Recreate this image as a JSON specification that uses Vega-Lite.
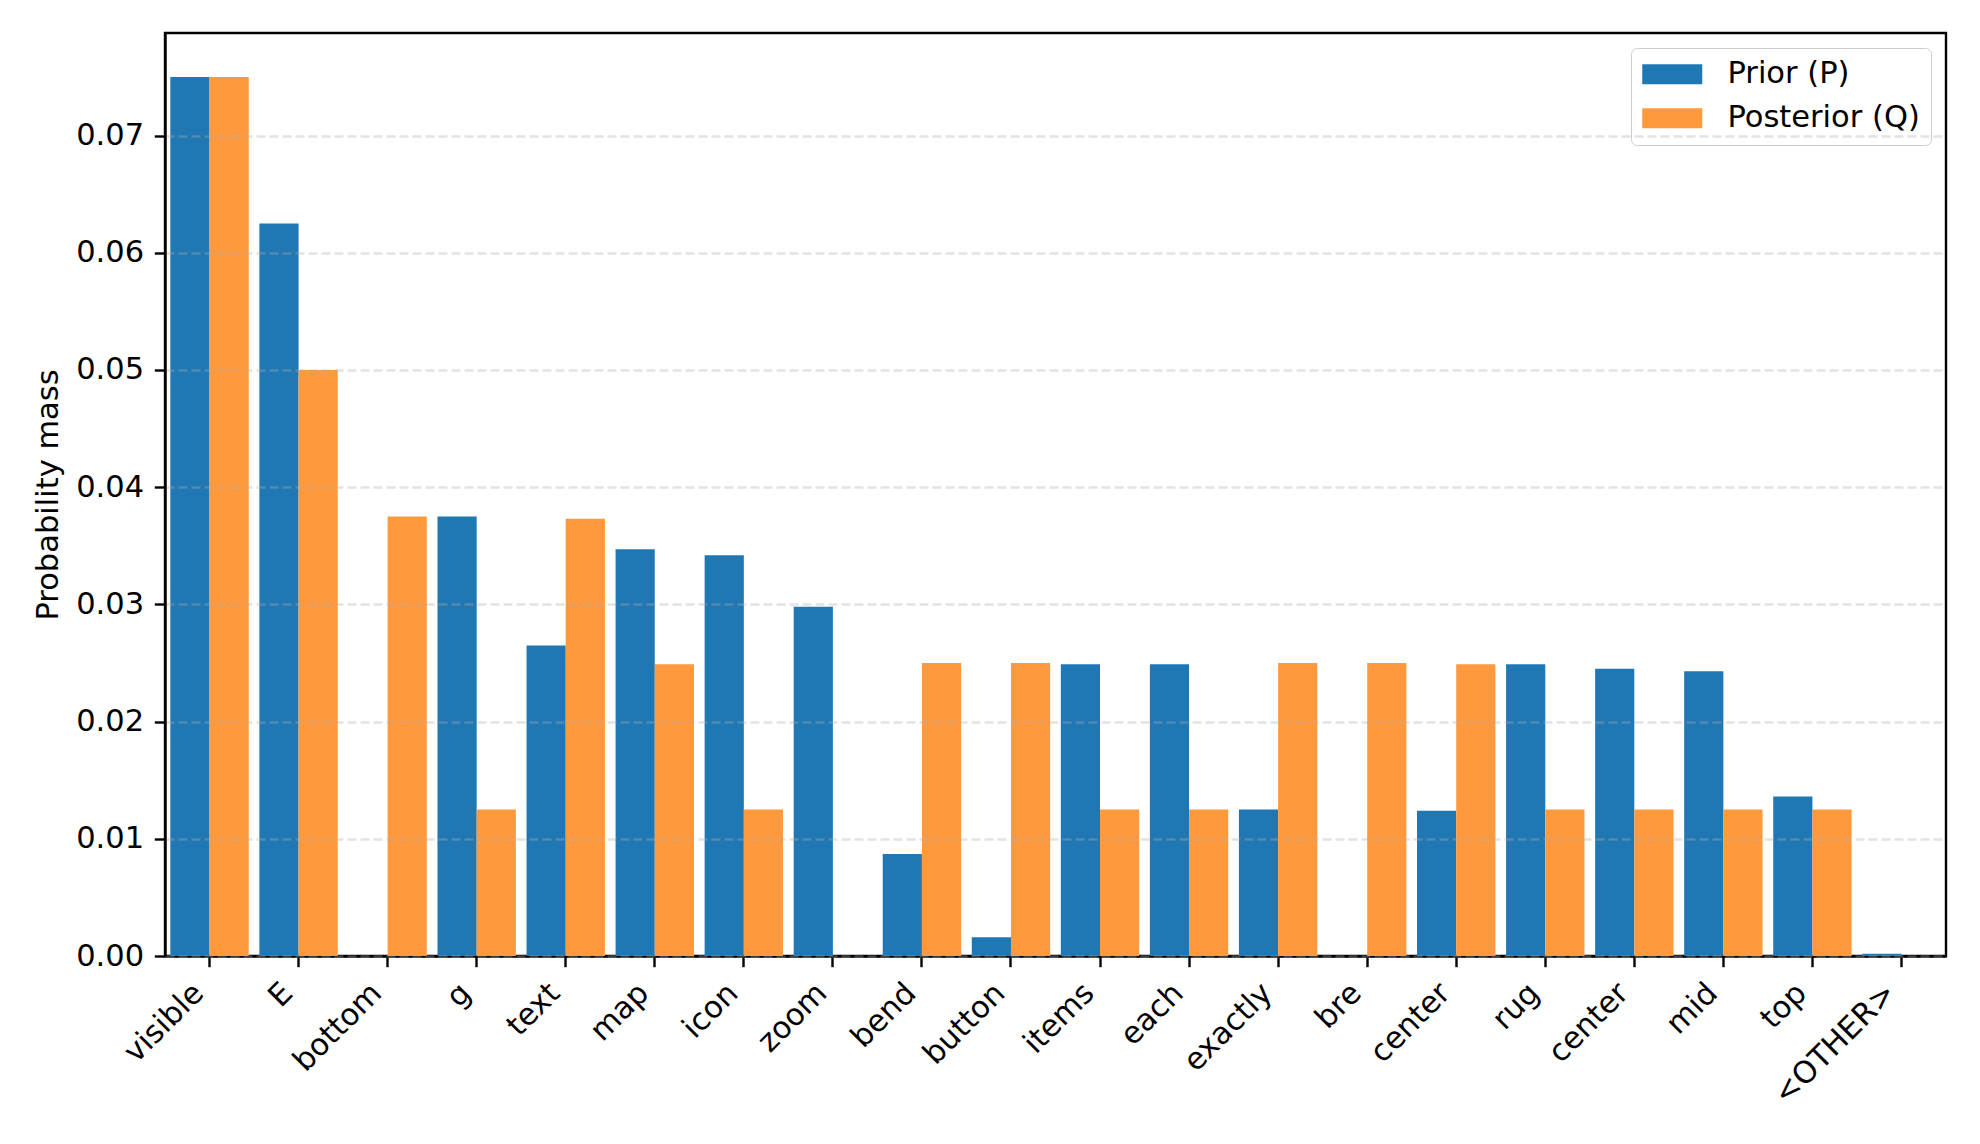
{
  "$schema": "https://vega.github.io/schema/vega-lite/v6.json",
  "width": 1781,
  "height": 923,
  "autosize": {"type": "none"},
  "padding": {"left": 165, "top": 33, "right": 34, "bottom": 188},
  "background": "white",
  "config": {
    "font": "DejaVu Sans",
    "view": {"stroke": "black", "strokeWidth": 2.4},
    "axis": {
      "labelFont": "DejaVu Sans",
      "labelFontSize": 30.5,
      "labelColor": "black",
      "titleFont": "DejaVu Sans",
      "titleFontSize": 30.5,
      "titleFontWeight": "normal",
      "titleColor": "black",
      "domainColor": "black",
      "domainWidth": 2.4,
      "tickColor": "black",
      "tickWidth": 2.4,
      "tickSize": 10.7,
      "labelPadding": 10.7
    }
  },
  "data": {
    "values": [
      {"word": "visible", "series": "Prior (P)", "value": 0.075},
      {"word": "visible", "series": "Posterior (Q)", "value": 0.075},
      {"word": "E", "series": "Prior (P)", "value": 0.0625},
      {"word": "E", "series": "Posterior (Q)", "value": 0.05},
      {"word": "bottom", "series": "Prior (P)", "value": 0},
      {"word": "bottom", "series": "Posterior (Q)", "value": 0.0375},
      {"word": "g", "series": "Prior (P)", "value": 0.0375},
      {"word": "g", "series": "Posterior (Q)", "value": 0.0125},
      {"word": "text", "series": "Prior (P)", "value": 0.0265},
      {"word": "text", "series": "Posterior (Q)", "value": 0.0373},
      {"word": "map", "series": "Prior (P)", "value": 0.0347},
      {"word": "map", "series": "Posterior (Q)", "value": 0.0249},
      {"word": "icon", "series": "Prior (P)", "value": 0.0342},
      {"word": "icon", "series": "Posterior (Q)", "value": 0.0125},
      {"word": "zoom", "series": "Prior (P)", "value": 0.0298},
      {"word": "zoom", "series": "Posterior (Q)", "value": 0},
      {"word": "bend", "series": "Prior (P)", "value": 0.0087},
      {"word": "bend", "series": "Posterior (Q)", "value": 0.025},
      {"word": "button", "series": "Prior (P)", "value": 0.0016},
      {"word": "button", "series": "Posterior (Q)", "value": 0.025},
      {"word": "items", "series": "Prior (P)", "value": 0.0249},
      {"word": "items", "series": "Posterior (Q)", "value": 0.0125},
      {"word": "each", "series": "Prior (P)", "value": 0.0249},
      {"word": "each", "series": "Posterior (Q)", "value": 0.0125},
      {"word": "exactly", "series": "Prior (P)", "value": 0.0125},
      {"word": "exactly", "series": "Posterior (Q)", "value": 0.025},
      {"word": "bre", "series": "Prior (P)", "value": 0},
      {"word": "bre", "series": "Posterior (Q)", "value": 0.025},
      {"word": "center#1", "series": "Prior (P)", "value": 0.0124},
      {"word": "center#1", "series": "Posterior (Q)", "value": 0.0249},
      {"word": "rug", "series": "Prior (P)", "value": 0.0249},
      {"word": "rug", "series": "Posterior (Q)", "value": 0.0125},
      {"word": "center#2", "series": "Prior (P)", "value": 0.0245},
      {"word": "center#2", "series": "Posterior (Q)", "value": 0.0125},
      {"word": "mid", "series": "Prior (P)", "value": 0.0243},
      {"word": "mid", "series": "Posterior (Q)", "value": 0.0125},
      {"word": "top", "series": "Prior (P)", "value": 0.0136},
      {"word": "top", "series": "Posterior (Q)", "value": 0.0125},
      {"word": "<OTHER>", "series": "Prior (P)", "value": 0.0002},
      {"word": "<OTHER>", "series": "Posterior (Q)", "value": 0}
    ]
  },
  "mark": {"type": "bar"},
  "encoding": {
    "x": {
      "field": "word",
      "type": "nominal",
      "sort": null,
      "scale": {"paddingInner": 0, "paddingOuter": 0},
      "axis": {
        "title": null,
        "labelAngle": -45,
        "labelAlign": "right",
        "labelBaseline": "bottom",
        "labelPadding": 32,
        "labelOverlap": false,
        "labelExpr": "split(datum.value, '#')[0]",
        "grid": false
      }
    },
    "xOffset": {
      "field": "series",
      "type": "nominal",
      "sort": ["Prior (P)", "Posterior (Q)"],
      "scale": {"paddingInner": 0, "paddingOuter": 0.136}
    },
    "y": {
      "field": "value",
      "type": "quantitative",
      "scale": {"domain": [0, 0.07875], "nice": false, "zero": true},
      "axis": {
        "title": "Probability mass",
        "values": [0, 0.01, 0.02, 0.03, 0.04, 0.05, 0.06, 0.07],
        "format": ".2f",
        "grid": true,
        "gridColor": "#b0b0b0",
        "gridOpacity": 0.35,
        "gridDash": [9, 4],
        "gridWidth": 2.4,
        "zindex": 1,
        "titlePadding": 12
      }
    },
    "opacity": {
      "condition": {"test": "datum.value > 0", "value": 1},
      "value": 0
    },
    "color": {
      "field": "series",
      "type": "nominal",
      "sort": ["Prior (P)", "Posterior (Q)"],
      "scale": {"domain": ["Prior (P)", "Posterior (Q)"], "range": ["#1f77b4", "#ff993e"]},
      "legend": {
        "title": null,
        "orient": "top-right",
        "offset": 15,
        "fillColor": "white",
        "strokeColor": "#cccccc",
        "cornerRadius": 6,
        "padding": 11,
        "symbolType": "M-1,-0.667L3,-0.667L3,0.667L-1,0.667Z",
        "symbolSize": 900,
        "symbolStrokeWidth": 0,
        "symbolOpacity": 1,
        "labelFont": "DejaVu Sans",
        "labelFontSize": 30.5,
        "labelColor": "black",
        "labelOffset": 55,
        "labelLimit": 500,
        "rowPadding": 13
      }
    }
  }
}
